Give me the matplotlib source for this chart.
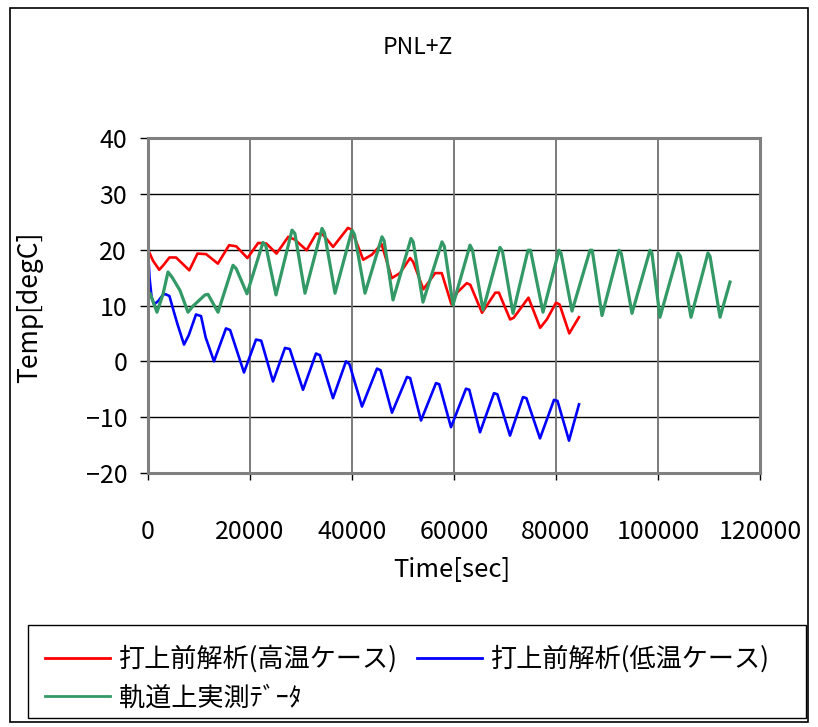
import numpy as np
import matplotlib
matplotlib.use("Agg")
import matplotlib.pyplot as plt
from matplotlib.patches import Rectangle

plt.rcParams['font.family'] = ['Noto Sans CJK JP', 'DejaVu Sans']

# 打上前解析(高温ケース)
red_t = [0, 1000, 2200, 3000, 4200, 5500, 8100, 9700, 11400, 13700, 15900, 17300,
         19500, 21600, 23200, 25200, 27500, 28800, 31100, 33000, 34300, 36300,
         39200, 39900, 42200, 43900, 45800, 47800, 49400, 51400, 52000, 54000,
         56300, 57600, 59500, 60600, 62500, 63200, 65500, 68100, 68800, 71000,
         71700, 74600, 76900, 78200, 80000, 80700, 82600, 84500]
red_v = [20.0, 18.0, 16.4, 17.2, 18.6, 18.6, 16.3, 19.3, 19.2, 17.5, 20.8, 20.6,
         18.5, 21.2, 21.1, 19.3, 22.3, 21.8, 19.9, 22.9, 22.7, 20.5,
         23.9, 23.6, 18.2, 19.1, 21.0, 14.9, 15.8, 18.5, 17.8, 12.9,
         15.8, 15.8, 10.2, 12.3, 14.0, 13.7, 8.7, 12.3, 12.3, 7.5,
         7.8, 11.4, 6.0, 7.5, 10.5, 10.2, 5.0, 7.9]

# 打上前解析(低温ケース)
blue_t = [0, 300, 700, 1200, 2000, 3000, 3500, 4200, 5000, 5800, 7060, 8000,
          9410, 10400, 11300, 12940, 15290, 16100, 18820, 21180, 22200, 24510,
          26860, 27800, 30390, 32940, 33700, 36270, 38820, 39500, 41960, 44900,
          45600, 47840, 50780, 51400, 53530, 56470, 57100, 59410, 62350, 63000,
          65100, 67840, 68500, 70980, 73530, 74200, 76860, 79610, 80300, 82550,
          84510]
blue_v = [20.0, 15.0, 11.5, 10.2, 10.8, 12.0, 12.0, 11.7, 9.1, 6.6, 3.0, 4.7,
          8.4, 8.1, 4.3, 0.0, 5.9, 5.6, -2.0, 3.9, 3.7, -3.6,
          2.4, 2.2, -5.1, 1.4, 1.1, -6.6, 0.0, -0.5, -8.1, -1.3,
          -1.6, -9.2, -2.8, -3.0, -10.6, -3.9, -4.1, -11.8, -4.9, -5.1,
          -12.7, -5.7, -5.9, -13.3, -6.4, -6.6, -13.8, -6.9, -7.1, -14.2,
          -7.7]

# 軌道上実測ﾃﾞｰﾀ
green_t = [0, 390, 1760, 2940, 3920, 4700, 6270, 7840, 8820, 11180, 11760, 13730,
           16670, 17300, 19410, 22550, 23100, 25100, 28240, 28800, 30780, 34120,
           34600, 36670, 40000, 40500, 42550, 45880, 46300, 48040, 51570, 52000,
           53920, 57650, 58100, 59800, 63140, 63600, 65690, 69020, 69500, 71570,
           74510, 75000, 77450, 80590, 81000, 83140, 86670, 87100, 89020, 92350,
           92800, 94900, 98430, 98800, 100390, 103920, 104400, 106470, 109800,
           110200, 112160, 114120]
green_v = [12.2, 12.2, 8.8, 12.0, 16.0, 15.1, 12.7, 8.8, 9.9, 11.9, 12.0, 8.8,
           17.2, 16.6, 12.1, 21.3, 20.7, 11.9, 23.5, 22.9, 12.2, 23.8,
           23.0, 12.2, 23.5, 22.7, 12.2, 22.3, 21.6, 11.0, 22.0, 21.4,
           10.6, 21.4, 20.6, 10.1, 20.8, 20.0, 9.2, 20.4, 19.7, 8.6,
           19.9, 19.9, 8.8, 19.9, 19.3, 9.0, 19.9, 19.9, 8.2, 19.9,
           19.3, 8.6, 19.9, 19.4, 7.9, 19.4, 18.8, 7.9, 19.4,
           18.8, 7.9, 14.2]

labels = ['打上前解析(高温ケース)', '打上前解析(低温ケース)', '軌道上実測ﾃﾞｰﾀ']

W, H = 818, 727
fig = plt.figure(figsize=(W / 100, H / 100), dpi=100)

# outer frame
fig.patches.append(Rectangle((10 / W, 1 - 722 / H), 798 / W, 714 / H,
                             transform=fig.transFigure, fill=False,
                             edgecolor='black', linewidth=1.2))

ax = fig.add_axes([148 / W, 1 - 473 / H, 612 / W, 335 / H])
l1, = ax.plot(red_t, red_v, color='#FF0000', lw=1.9)
l2, = ax.plot(blue_t, blue_v, color='#0000FF', lw=1.9)
l3, = ax.plot(green_t, green_v, color='#339966', lw=2.3)

ax.set_xlim(0, 120000)
ax.set_ylim(-20, 40)
ax.set_xticks(np.arange(0, 120001, 20000))
ax.set_yticks(np.arange(-20, 41, 10))
ax.set_yticklabels(['\u221220', '\u221210', '0', '10', '20', '30', '40'])
for y in range(-10, 40, 10):
    ax.axhline(y, color='black', lw=1.0, zorder=0)
for x in range(20000, 120000, 20000):
    ax.axvline(x, color='#707070', lw=1.3, zorder=0)
for s in ax.spines.values():
    s.set_color('#808080')
    s.set_linewidth(2.2)
ax.tick_params(axis='y', direction='out', length=6, width=1, color='black',
               labelsize=18, pad=9)
ax.tick_params(axis='x', direction='out', length=5, width=1, color='black',
               labelsize=18, pad=28)

fig.text(418 / W, 1 - 48 / H, 'PNL+Z', ha='center', va='center', fontsize=16.5)
fig.text(452 / W, 1 - 570 / H, 'Time[sec]', ha='center', va='center', fontsize=18.5)
fig.text(30 / W, 1 - 307 / H, 'Temp[degC]', ha='center', va='center',
         fontsize=19, rotation=90)

# legend box
fig.patches.append(Rectangle((28 / W, 1 - 718 / H), 778 / W, 93 / H,
                             transform=fig.transFigure, fill=False,
                             edgecolor='black', linewidth=1.0))
leg = fig.legend([l1, l3, l2], [labels[0], labels[2], labels[1]], ncol=2,
                 loc='upper left', bbox_to_anchor=(32 / W, 1 - 632 / H),
                 frameon=False, fontsize=18.8, handlelength=2.5,
                 handletextpad=0.35, columnspacing=0.7, labelspacing=0.45,
                 borderpad=0)
for h in leg.legend_handles:
    h.set_linewidth(2.0)

fig.savefig('out.png', dpi=100)
